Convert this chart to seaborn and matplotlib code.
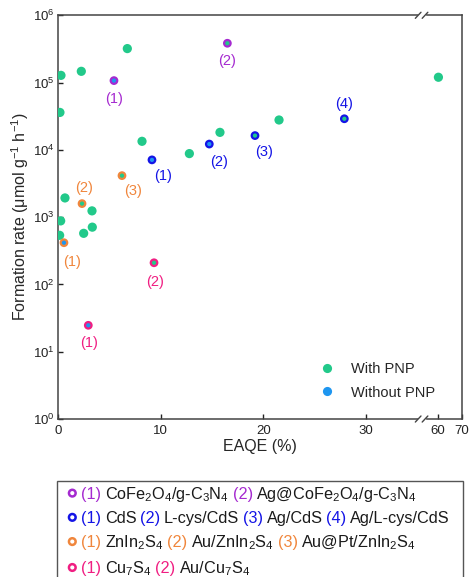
import numpy as np
import pandas as pd
import seaborn as sns
import matplotlib
matplotlib.use("Agg")
import matplotlib.pyplot as plt
from matplotlib.lines import Line2D
from matplotlib.patches import Circle, Rectangle
from matplotlib.offsetbox import TextArea, DrawingArea, HPacker, VPacker, AnchoredOffsetbox

# plain points (all with PNP)
plain_x = [0.29, 2.27, 6.75, 0.19, 8.18, 12.79, 15.77, 0.68, 3.31, 0.26, 2.5, 3.34, 0.16, 21.52, 60.3]
plain_y = [1.28e5, 1.47e5, 3.2e5, 3.6e4, 1.34e4, 8.8e3, 1.82e4, 1.93e3, 1.24e3, 880, 575, 710, 537, 2.78e4, 1.2e5]

# labelled catalysts
mat_family = ['CoFe', 'CoFe', 'CdS', 'CdS', 'CdS', 'CdS', 'ZnIn', 'ZnIn', 'ZnIn', 'Cu', 'Cu']
mat_num = ['(1)', '(2)', '(1)', '(2)', '(3)', '(4)', '(1)', '(2)', '(3)', '(1)', '(2)']
mat_x = [5.45, 16.49, 9.15, 14.73, 19.18, 27.88, 0.58, 2.34, 6.23, 2.95, 9.35]
mat_y = [1.07e5, 3.84e5, 7.1e3, 1.22e4, 1.63e4, 2.9e4, 417, 1.59e3, 4.14e3, 24.7, 210]
mat_pnp = ['Without PNP', 'With PNP', 'Without PNP', 'Without PNP', 'With PNP', 'With PNP',
           'Without PNP', 'With PNP', 'With PNP', 'Without PNP', 'With PNP']

# bottom legend text
names_cofe = ['CoFe$_2$O$_4$/g-C$_3$N$_4$', 'Ag@CoFe$_2$O$_4$/g-C$_3$N$_4$']
names_cds = ['CdS', 'L-cys/CdS', 'Ag/CdS', 'Ag/L-cys/CdS']
names_znin = ['ZnIn$_2$S$_4$', 'Au/ZnIn$_2$S$_4$', 'Au@Pt/ZnIn$_2$S$_4$']
names_cu = ['Cu$_7$S$_4$', 'Au/Cu$_7$S$_4$']

pnp_colors = {'With PNP': '#22C98A', 'Without PNP': '#1E96F0'}
fam_colors = {'CoFe': '#A52AD0', 'CdS': '#1414E6', 'ZnIn': '#F0863C', 'Cu': '#F01E82'}

sns.set_style('ticks')
plt.rcParams['font.family'] = ['Liberation Sans', 'DejaVu Sans']
plt.rcParams['mathtext.fontset'] = 'custom'
plt.rcParams['mathtext.rm'] = 'Liberation Sans'
plt.rcParams['mathtext.it'] = 'Liberation Sans:italic'
plt.rcParams['mathtext.bf'] = 'Liberation Sans:bold'
plt.rcParams['mathtext.default'] = 'regular'

plain = pd.DataFrame({'x': plain_x, 'y': plain_y, 'PNP': 'With PNP'})
mats = pd.DataFrame({'x': mat_x, 'y': mat_y, 'PNP': mat_pnp, 'fam': mat_family, 'num': mat_num})

fig = plt.figure(figsize=(4.7, 5.77), dpi=100)
ax = fig.add_axes([0.1234, 0.2738, 0.859, 0.6997])

# broken x axis: 0..35.4 linear, then 53.3..70 compressed
B, C, K = 35.4, 53.3, 0.234
def fwd(x):
    x = np.asarray(x, float)
    return np.where(x <= B, x, B + np.maximum(x - C, 0) * K)
def inv(t):
    t = np.asarray(t, float)
    return np.where(t <= B, t, C + (t - B) / K)
ax.set_xscale('function', functions=(fwd, inv))
ax.set_yscale('log')

sns.scatterplot(data=plain, x='x', y='y', hue='PNP', palette=pnp_colors, s=44,
                linewidth=0, legend=False, ax=ax, zorder=3)
for fam, sub in mats.groupby('fam'):
    sns.scatterplot(data=sub, x='x', y='y', hue='PNP', palette=pnp_colors, s=22,
                    edgecolor=fam_colors[fam], linewidth=1.6, legend=False, ax=ax, zorder=4)

label_offsets = [(0, -18.6), (0, -17.7), (11.3, -15.7), (9.7, -17.7), (9.3, -16), (0, 14.7),
                 (7.7, -19), (2, 15.4), (11.3, -15.3), (0.4, -18), (1, -19)]
for (i, r), off in zip(mats.iterrows(), label_offsets):
    ax.annotate(r['num'], (r['x'], r['y']), xytext=off, textcoords='offset pixels',
                ha='center', va='center', fontsize=10.5, color=fam_colors[r['fam']])

ax.set_xlim(0, 70)
ax.set_ylim(1, 1e6)
ax.set_xticks([0, 10, 20, 30, 60, 70])
ax.set_xticklabels(['0', '10', '20', '30', '60', '70'])
ax.set_yticks([1, 10, 100, 1e3, 1e4, 1e5, 1e6])
ax.minorticks_off()
ax.tick_params(direction='in', length=3.5, width=1, labelsize=9.5, colors='#222222', pad=4)
ax.tick_params(axis='y', pad=2.5)
for sp in ax.spines.values():
    sp.set_visible(True)
    sp.set_color('#444444')
    sp.set_linewidth(1.1)
ax.set_xlabel('EAQE (%)', fontsize=11.5, labelpad=1.8)
ax.set_ylabel('Formation rate (μmol g$^{-1}$ h$^{-1}$)', fontsize=11.5)
ax.yaxis.set_label_coords(-0.067, 0.5)

# break marks on top and bottom spines
xb = (fwd(B) - 0) / fwd(70)
for yb in (0, 1):
    ax.plot([xb - 0.006, xb + 0.006], [yb, yb], color='white', lw=2.5,
            transform=ax.transAxes, clip_on=False, zorder=5)
    for dx in (-0.0085, 0.0085):
        ax.plot([xb + dx - 0.007, xb + dx + 0.007], [yb - 0.0075, yb + 0.0075],
                color='#444444', lw=1, transform=ax.transAxes, clip_on=False, zorder=6)

handles = [Line2D([], [], ls='none', marker='o', markersize=6.6, markeredgewidth=0,
                  color=pnp_colors[k]) for k in ['With PNP', 'Without PNP']]
ax.legend(handles, ['With PNP', 'Without PNP'], loc='upper left', bbox_to_anchor=(0.649, 0.14),
          frameon=False, borderpad=0, borderaxespad=0, handlelength=1, handletextpad=1.15,
          labelspacing=0.62, fontsize=10.5)

# bottom material legend
def ring(color):
    da = DrawingArea(8, 8, 0, 0)
    da.add_artist(Circle((4, 4), 2.4, facecolor='none', edgecolor=color, lw=1.8))
    return da

rows = []
for fam, names in [('CoFe', names_cofe), ('CdS', names_cds), ('ZnIn', names_znin), ('Cu', names_cu)]:
    parts = [ring(fam_colors[fam])]
    for j, nm in enumerate(names):
        parts.append(TextArea('(%d)' % (j + 1), textprops=dict(color=fam_colors[fam], fontsize=11.7)))
        parts.append(TextArea(nm, textprops=dict(color='#1a1a1a', fontsize=11.7)))
    rows.append(HPacker(children=parts, align='baseline', pad=0, sep=2.6))
box = VPacker(children=rows, align='left', pad=0, sep=5.2)
fig.add_artist(AnchoredOffsetbox(loc='upper left', child=box, bbox_to_anchor=(0.142, 0.16),
                                 bbox_transform=fig.transFigure, frameon=False, borderpad=0, pad=0))
fig.add_artist(Rectangle((57.3 / 470, -0.05), 405.4 / 470, 0.05 + 1 - 480.7 / 577,
                         transform=fig.transFigure, facecolor='none', edgecolor='#555555', lw=1))

fig.savefig('out.png', dpi=100)
